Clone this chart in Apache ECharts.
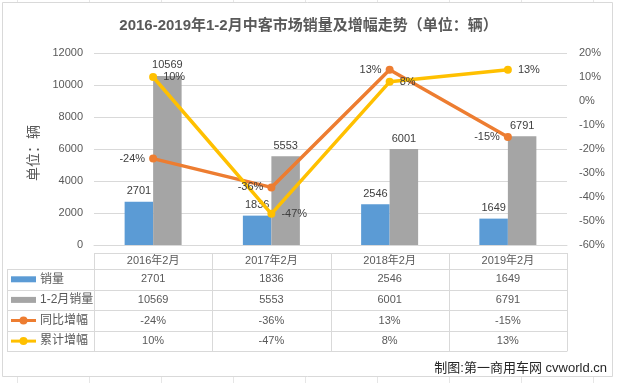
<!DOCTYPE html>
<html><head><meta charset="utf-8">
<script src="https://cdn.jsdelivr.net/npm/echarts@6/dist/echarts.min.js"></script>
<style>html,body{margin:0;padding:0;background:#fff}#c{width:617px;height:383px}</style>
</head><body><div id="c"></div>
<script>
// ---- data ----
const categories = ['2016年2月', '2017年2月', '2018年2月', '2019年2月'];
const febSales = [2701, 1836, 2546, 1649];
const ytdSales = [10569, 5553, 6001, 6791];
const yoyGrowth = [-24, -36, 13, -15];
const ytdGrowth = [10, -47, 8, 13];
const seriesNames = ['销量', '1-2月销量', '同比增幅', '累计增幅'];
const leftAxis = { min: 0, max: 12000, interval: 2000 };
const rightAxis = { min: -60, max: 20, interval: 10 };
const titleText = '2016-2019年1-2月中客市场销量及增幅走势（单位：辆）';
const axisNameText = '单位：辆';
const footerText = '制图:第一商用车网 cvworld.cn';

// ---- style ----
const F = "'Liberation Sans','Noto Sans CJK SC',sans-serif";
const colors = ['#5B9BD5', '#A5A5A5', '#ED7D31', '#FFC000'];
const txt = '#595959';
const lbl = '#404040';
const gridC = '#D9D9D9';
const G = { left: 94, right: 50, top: 53, bottom: 138 };

const chart = echarts.init(document.getElementById('c'), null, { renderer: 'canvas' });

const option = {
  animation: false,
  backgroundColor: '#fff',
  title: {
    text: titleText, left: 'center', top: 13,
    textStyle: { fontFamily: F, fontSize: 15, fontWeight: 'bold', color: txt }
  },
  grid: Object.assign({ containLabel: false }, G),
  xAxis: {
    type: 'category', data: categories, boundaryGap: true,
    axisLine: { lineStyle: { color: gridC } },
    axisTick: { show: false },
    axisLabel: { margin: 10, fontFamily: F, fontSize: 11, color: txt, interval: 0 }
  },
  yAxis: [
    {
      type: 'value', min: leftAxis.min, max: leftAxis.max, interval: leftAxis.interval,
      name: axisNameText, nameLocation: 'middle', nameGap: 30,
      nameTextStyle: { fontFamily: F, fontSize: 14, color: txt, padding: [0, 8, 0, 0] },
      axisLine: { show: false }, axisTick: { show: false },
      axisLabel: { margin: 11, fontFamily: F, fontSize: 11, color: txt, formatter: v => String(v) },
      splitLine: { lineStyle: { color: gridC } }
    },
    {
      type: 'value', min: rightAxis.min, max: rightAxis.max, interval: rightAxis.interval,
      axisLine: { show: false }, axisTick: { show: false },
      axisLabel: { margin: 12, fontFamily: F, fontSize: 11, color: txt, formatter: '{value}%' },
      splitLine: { show: false }
    }
  ],
  series: [
    {
      name: seriesNames[0], type: 'bar', data: febSales, barWidth: 28.5, barGap: '0%',
      itemStyle: { color: colors[0] },
      label: { show: true, position: 'top', distance: 5, fontFamily: F, fontSize: 11, color: lbl }
    },
    {
      name: seriesNames[1], type: 'bar', data: ytdSales, barWidth: 28.5, barGap: '0%',
      itemStyle: { color: colors[1] },
      label: { show: true, position: 'top', distance: 5, fontFamily: F, fontSize: 11, color: lbl }
    },
    {
      name: seriesNames[2], type: 'line', yAxisIndex: 1, data: yoyGrowth,
      symbol: 'circle', symbolSize: 8,
      lineStyle: { color: colors[2], width: 3.5 }, itemStyle: { color: colors[2] },
      label: { show: true, position: 'left', distance: 4, fontFamily: F, fontSize: 11, color: lbl, formatter: '{c}%' }
    },
    {
      name: seriesNames[3], type: 'line', yAxisIndex: 1, data: ytdGrowth,
      symbol: 'circle', symbolSize: 8,
      lineStyle: { color: colors[3], width: 3.5 }, itemStyle: { color: colors[3] },
      label: { show: true, position: 'right', distance: 6, fontFamily: F, fontSize: 11, color: lbl, formatter: '{c}%' }
    }
  ]
};
chart.setOption(option);

// ---- data table + frame drawn as graphic, text from the arrays ----
function buildGraphics() {
  const W = chart.getWidth(), H = chart.getHeight();
  const gl = G.left, gr = W - G.right;
  const colW = (gr - gl) / categories.length;
  const tableTop = 253, headBottom = 269, rowH = 20.6, legLeft = 7;
  const rows = [
    febSales.map(String),
    ytdSales.map(String),
    yoyGrowth.map(v => v + '%'),
    ytdGrowth.map(v => v + '%')
  ];
  const els = [];
  const ln = (x1, y1, x2, y2, c, w) => els.push({
    type: 'line', silent: true,
    shape: { x1, y1, x2, y2 }, style: { stroke: c || gridC, lineWidth: w || 1 }
  });
  const crisp = v => Math.round(v) + 0.5;
  const tableBottom = headBottom + rows.length * rowH;
  // frame
  els.push({ type: 'rect', silent: true, shape: { x: 2.5, y: 2.5, width: 610, height: 374 },
    style: { fill: null, stroke: '#D9D9D9', lineWidth: 1 } });
  // sheet gridlines outside frame
  for (let k = 0; k < 9; k++) {
    const x = crisp(17 + 71.95 * k);
    ln(x, 0, x, 2, '#E6E6E6');
    ln(x, 377, x, H, '#E6E6E6');
  }
  // table lines
  ln(gl, crisp(tableTop), gr, crisp(tableTop));
  for (let r = 0; r <= rows.length; r++) {
    const y = crisp(headBottom + r * rowH);
    ln(legLeft, y, gr, y);
  }
  for (let i = 0; i <= categories.length; i++) {
    const x = crisp(gl + i * colW);
    ln(x, tableTop, x, tableBottom);
  }
  ln(crisp(legLeft), headBottom, crisp(legLeft), tableBottom);
  // values
  rows.forEach((row, r) => {
    const yc = headBottom + (r + 0.5) * rowH;
    row.forEach((v, i) => {
      const xc = chart.convertToPixel({ xAxisIndex: 0 }, categories[i]);
      els.push({ type: 'text', silent: true,
        style: { text: v, x: xc, y: yc, align: 'center', verticalAlign: 'middle',
          fontFamily: F, fontSize: 11, fill: txt } });
    });
    // legend cell
    const c = colors[r];
    if (r < 2) {
      els.push({ type: 'rect', silent: true, shape: { x: 11, y: yc - 3, width: 25, height: 6 }, style: { fill: c } });
    } else {
      ln(11, yc, 36, yc, c, 3);
      els.push({ type: 'circle', silent: true, shape: { cx: 23.5, cy: yc, r: 4 }, style: { fill: c } });
    }
    els.push({ type: 'text', silent: true,
      style: { text: seriesNames[r], x: 40, y: yc, align: 'left', verticalAlign: 'middle',
        fontFamily: F, fontSize: 12, fill: txt } });
  });
  // footer
  els.push({ type: 'text', silent: true,
    style: { text: footerText, x: 607, y: 368, align: 'right', verticalAlign: 'middle',
      fontFamily: F, fontSize: 13, fill: '#262626' } });
  chart.setOption({ graphic: { elements: els } });
}
buildGraphics();
</script></body></html>
